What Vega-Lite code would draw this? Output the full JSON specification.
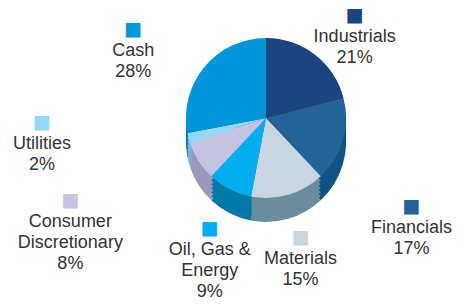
{
  "$schema": "https://vega.github.io/schema/vega-lite/v6.json",
  "autosize": "none",
  "width": 300,
  "height": 236,
  "padding": {"left": 116, "top": 0, "right": 50, "bottom": 69},
  "background": "white",
  "config": {"view": {"stroke": null}},
  "data": {"values": [
    {"cat": "Industrials", "value": 21, "ord": 1, "label": "Industrials\n21%"},
    {"cat": "Financials", "value": 17, "ord": 2, "label": "Financials\n17%"},
    {"cat": "Materials", "value": 15, "ord": 3, "label": "Materials\n15%"},
    {"cat": "Oil, Gas & Energy", "value": 9, "ord": 4, "label": "Oil, Gas &\nEnergy\n9%"},
    {"cat": "Consumer Discretionary", "value": 8, "ord": 5, "label": "Consumer\nDiscretionary\n8%"},
    {"cat": "Utilities", "value": 2, "ord": 6, "label": "Utilities\n2%"},
    {"cat": "Cash", "value": 28, "ord": 7, "label": "Cash\n28%"}
  ]},
  "encoding": {
    "theta": {"field": "value", "type": "quantitative", "stack": true},
    "order": {"field": "ord", "type": "quantitative"}
  },
  "layer": [
    {"mark": {"type": "arc", "outerRadius": 80, "yOffset": 24},
     "encoding": {"fill": {"field": "cat", "type": "nominal", "legend": null, "scale": {"domain": ["Industrials", "Financials", "Materials", "Oil, Gas & Energy", "Consumer Discretionary", "Utilities", "Cash"], "range": ["#10305e", "#0f5283", "#6a8d9c", "#0079a9", "#9b98bb", "#72bde0", "#0074b0"]}}}},
    {"mark": {"type": "arc", "outerRadius": 80, "yOffset": 20},
     "encoding": {"fill": {"field": "cat", "type": "nominal", "legend": null}}},
    {"mark": {"type": "arc", "outerRadius": 80, "yOffset": 16},
     "encoding": {"fill": {"field": "cat", "type": "nominal", "legend": null}}},
    {"mark": {"type": "arc", "outerRadius": 80, "yOffset": 12},
     "encoding": {"fill": {"field": "cat", "type": "nominal", "legend": null}}},
    {"mark": {"type": "arc", "outerRadius": 80, "yOffset": 8},
     "encoding": {"fill": {"field": "cat", "type": "nominal", "legend": null}}},
    {"mark": {"type": "arc", "outerRadius": 80, "yOffset": 4},
     "encoding": {"fill": {"field": "cat", "type": "nominal", "legend": null}}},
    {"mark": {"type": "arc", "outerRadius": 80},
     "encoding": {"color": {"field": "cat", "type": "nominal", "legend": null, "scale": {"domain": ["Industrials", "Financials", "Materials", "Oil, Gas & Energy", "Consumer Discretionary", "Utilities", "Cash"], "range": ["#1b4580", "#246398", "#c8d7df", "#00aeef", "#c5c3e0", "#93d9f7", "#0096d9"]}}}},
    {"mark": {"type": "text", "radius": 124, "baseline": "middle", "fontSize": 19, "font": "DejaVu Sans"},
     "encoding": {"text": {"condition": {"test": "indexof(['Materials','Oil, Gas & Energy'], datum.cat) >= 0", "value": "■"}, "value": ""},
                  "color": {"field": "cat", "type": "nominal", "legend": null}}},
    {"mark": {"type": "text", "radius": 124, "baseline": "top", "dy": 13, "fontSize": 18, "lineHeight": 21, "font": "Liberation Sans", "color": "#333333", "lineBreak": "\n"},
     "encoding": {"text": {"condition": {"test": "indexof(['Materials','Oil, Gas & Energy'], datum.cat) >= 0", "field": "label"}, "value": ""}}},
    {"mark": {"type": "text", "radius": 136, "thetaOffset": 0.05, "baseline": "middle", "fontSize": 19, "font": "DejaVu Sans"},
     "encoding": {"text": {"condition": {"test": "datum.cat === 'Industrials'", "value": "■"}, "value": ""},
                  "color": {"field": "cat", "type": "nominal", "legend": null}}},
    {"mark": {"type": "text", "radius": 136, "thetaOffset": 0.05, "baseline": "top", "dy": 13, "fontSize": 18, "lineHeight": 21, "font": "Liberation Sans", "color": "#333333", "lineBreak": "\n"},
     "encoding": {"text": {"condition": {"test": "datum.cat === 'Industrials'", "field": "label"}, "value": ""}}},
    {"mark": {"type": "text", "radius": 160, "thetaOffset": -0.1, "baseline": "middle", "fontSize": 19, "font": "DejaVu Sans"},
     "encoding": {"text": {"condition": {"test": "datum.cat === 'Cash'", "value": "■"}, "value": ""},
                  "color": {"field": "cat", "type": "nominal", "legend": null}}},
    {"mark": {"type": "text", "radius": 160, "thetaOffset": -0.1, "baseline": "top", "dy": 13, "fontSize": 18, "lineHeight": 21, "font": "Liberation Sans", "color": "#333333", "lineBreak": "\n"},
     "encoding": {"text": {"condition": {"test": "datum.cat === 'Cash'", "field": "label"}, "value": ""}}},
    {"mark": {"type": "text", "radius": 170, "thetaOffset": 0.26, "baseline": "middle", "fontSize": 19, "font": "DejaVu Sans"},
     "encoding": {"text": {"condition": {"test": "datum.cat === 'Financials'", "value": "■"}, "value": ""},
                  "color": {"field": "cat", "type": "nominal", "legend": null}}},
    {"mark": {"type": "text", "radius": 170, "thetaOffset": 0.26, "baseline": "top", "dy": 13, "fontSize": 18, "lineHeight": 21, "font": "Liberation Sans", "color": "#333333", "lineBreak": "\n"},
     "encoding": {"text": {"condition": {"test": "datum.cat === 'Financials'", "field": "label"}, "value": ""}}},
    {"mark": {"type": "text", "radius": 212, "thetaOffset": 0.17, "baseline": "middle", "fontSize": 19, "font": "DejaVu Sans"},
     "encoding": {"text": {"condition": {"test": "datum.cat === 'Consumer Discretionary'", "value": "■"}, "value": ""},
                  "color": {"field": "cat", "type": "nominal", "legend": null}}},
    {"mark": {"type": "text", "radius": 212, "thetaOffset": 0.17, "baseline": "top", "dy": 13, "fontSize": 18, "lineHeight": 21, "font": "Liberation Sans", "color": "#333333", "lineBreak": "\n"},
     "encoding": {"text": {"condition": {"test": "datum.cat === 'Consumer Discretionary'", "field": "label"}, "value": ""}}},
    {"mark": {"type": "text", "radius": 224, "thetaOffset": 0.234, "baseline": "middle", "fontSize": 19, "font": "DejaVu Sans"},
     "encoding": {"text": {"condition": {"test": "datum.cat === 'Utilities'", "value": "■"}, "value": ""},
                  "color": {"field": "cat", "type": "nominal", "legend": null}}},
    {"mark": {"type": "text", "radius": 224, "thetaOffset": 0.234, "baseline": "top", "dy": 13, "fontSize": 18, "lineHeight": 21, "font": "Liberation Sans", "color": "#333333", "lineBreak": "\n"},
     "encoding": {"text": {"condition": {"test": "datum.cat === 'Utilities'", "field": "label"}, "value": ""}}}
  ]
}
